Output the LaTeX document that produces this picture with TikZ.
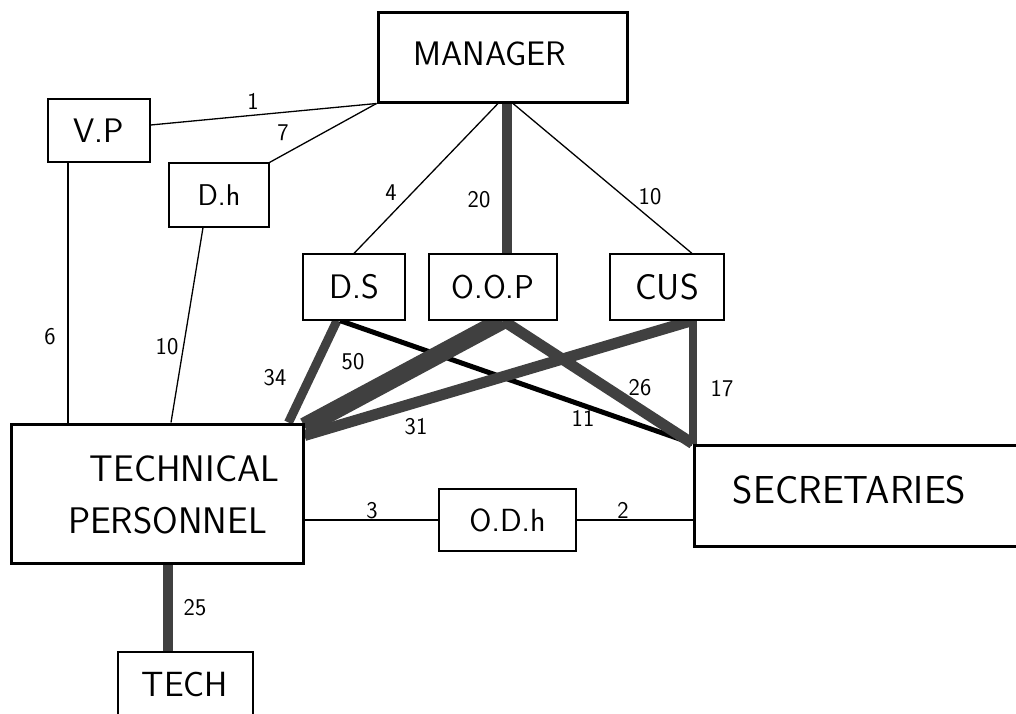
\documentclass[tikz,border=0pt]{standalone}
\usepackage{fontspec}
\usepackage{tikz}
\pgfdeclarelayer{background}
\pgfsetlayers{background,main}
\newcommand{\boxfont}[1]{\sffamily\fontsize{#1}{#1}\selectfont}

\begin{document}
\begin{tikzpicture}[x=1pt,y=-1pt,
  box/.style={draw,line width=1.2pt,fill=white,inner sep=0pt},
  bigbox/.style={draw,line width=3pt,fill=white,inner sep=0pt},
  link/.style={line width=1.3pt},
  heavy/.style={line width=#1,draw=black!75},
  num/.style={font=\boxfont{24},inner sep=0pt}]
\useasboundingbox (0,0) rectangle (1016,713);
% boxes
\node[bigbox,minimum width=249pt,minimum height=90pt] (mgr) at (502.5,57) {};
\node[font=\boxfont{34}] (mgrtext) at (490,53.5) {MANAGER};
\node[box,minimum width=102pt,minimum height=63pt,font=\boxfont{34}] (vp) at (99,130.5) {V.P};
\node[box,minimum width=100pt,minimum height=64pt,font=\boxfont{30}] (dh) at (219,195) {D.h};
\node[box,minimum width=102pt,minimum height=66pt,font=\boxfont{34}] (ds) at (354,287) {D.S};
\node[box,minimum width=128pt,minimum height=66pt,font=\boxfont{33}] (oop) at (493,287) {O.O.P};
\node[box,minimum width=114pt,minimum height=66pt,font=\boxfont{36}] (cus) at (667,287) {CUS};
\node[bigbox,minimum width=292pt,minimum height=139pt] (tp) at (157,493.5) {};
\node[font=\boxfont{37}] (tptop) at (184.5,469) {TECHNICAL};
\node[font=\boxfont{37}] (tpbot) at (167.5,520.5) {PERSONNEL};
\node[box,minimum width=137pt,minimum height=62pt,font=\boxfont{32}] (odh) at (507.5,520) {O.D.h};
\node[bigbox,minimum width=336pt,minimum height=101pt] (sec) at (862,495.5) {};
\node[font=\boxfont{39}] (sectext) at (849.5,490) {SECRETARIES};
\node[box,minimum width=135pt,minimum height=88pt] (tech) at (185.5,696) {};
\node[font=\boxfont{35}] (techtext) at (185,684.5) {TECH};
% links
\begin{pgfonlayer}{background}
\draw[link] (mgr.south west) -- ([yshift=5.5pt]vp.east);
\draw[link] (mgr.south west) -- (dh.north east);
\draw[link] ([xshift=-31pt]vp.south) -- ([xshift=-31pt]vp.south |- tp.north);
\draw[link] ([xshift=-16pt]dh.south) -- ([xshift=14pt]tp.north);
\draw[link] ([xshift=-4.5pt]mgr.south) -- (ds.north);
\draw[heavy=10pt] ([xshift=4.5pt]mgr.south) -- ([xshift=4.5pt]mgr.south |- oop.north);
\draw[link] ([xshift=10.5pt]mgr.south) -- ([xshift=25pt]cus.north);
\draw[heavy=9pt] ([xshift=-17pt]ds.south) -- ([xshift=-16pt]tp.north east);
\draw[line width=5pt] ([xshift=-14pt]ds.south) -- (sec.north west);
\draw[heavy=18pt] ([xshift=9pt]oop.south) -- ([yshift=-4pt]tp.north east);
\draw[heavy=11pt] ([xshift=10pt]oop.south) -- (sec.north west);
\draw[heavy=11pt] ([xshift=25pt]cus.south) -- ([yshift=-13pt]tp.north east);
\draw[heavy=8pt] (cus.south -| sec.north west) -- (sec.north west);
\draw[link] (tp.east |- odh.west) -- (odh.west);
\draw[link] (odh.east) -- (odh.east -| sec.west);
\draw[heavy=10pt] ([xshift=11pt]tp.south) -- ([xshift=11pt]tp.south |- tech.north);
\end{pgfonlayer}
% weights
\node[num] (w1) at (253,101) {1};
\node[num] (w7) at (283,133) {7};
\node[num] (w6) at (50,337) {6};
\node[num] (w10a) at (167,347) {10};
\node[num] (w4) at (391,193) {4};
\node[num] (w20) at (479,200) {20};
\node[num] (w10b) at (650,197) {10};
\node[num] (w34) at (275,378) {34};
\node[num] (w50) at (353,362) {50};
\node[num] (w31) at (416,427) {31};
\node[num] (w11) at (583,418) {11};
\node[num] (w26) at (640,388) {26};
\node[num] (w17) at (722,389) {17};
\node[num] (w3) at (372,511) {3};
\node[num] (w2) at (623,510) {2};
\node[num] (w25) at (195,608) {25};
\end{tikzpicture}
\end{document}
